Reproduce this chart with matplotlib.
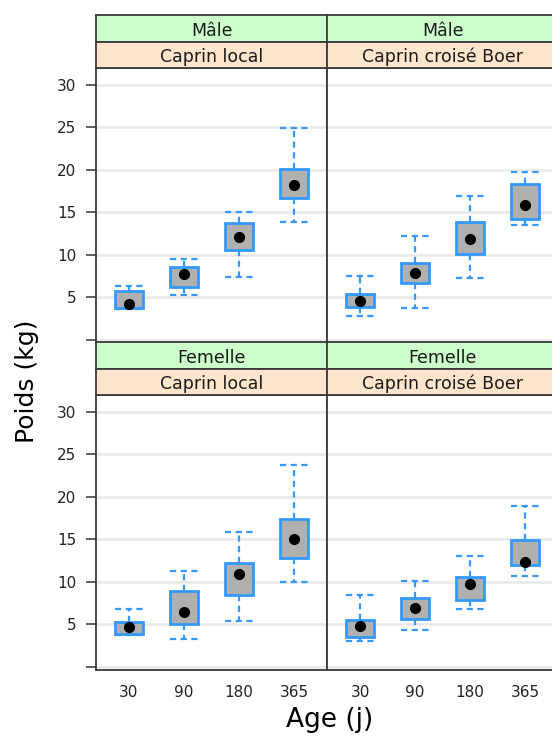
import matplotlib.pyplot as plt

plt.rcParams['font.family'] = 'DejaVu Sans'

ages = ["30", "90", "180", "365"]

# Mâle - Caprin local
ml_low = [3.6, 5.3, 7.4, 13.8]
ml_q1 = [3.7, 6.2, 10.6, 16.7]
ml_med = [4.2, 7.7, 12.1, 18.2]
ml_q3 = [5.7, 8.6, 13.7, 20.1]
ml_high = [6.3, 9.5, 15.0, 24.9]

# Mâle - Caprin croisé Boer
mb_low = [2.8, 3.7, 7.2, 13.5]
mb_q1 = [3.9, 6.7, 10.1, 14.2]
mb_med = [4.5, 7.9, 11.8, 15.9]
mb_q3 = [5.4, 9.0, 13.9, 18.3]
mb_high = [7.5, 12.2, 16.9, 19.7]

# Femelle - Caprin local
fl_low = [3.7, 3.3, 5.4, 10.0]
fl_q1 = [3.8, 5.0, 8.4, 12.8]
fl_med = [4.7, 6.4, 10.9, 15.0]
fl_q3 = [5.2, 8.9, 12.2, 17.4]
fl_high = [6.8, 11.3, 15.8, 23.8]

# Femelle - Caprin croisé Boer
fb_low = [3.0, 4.3, 6.8, 10.7]
fb_q1 = [3.5, 5.6, 7.9, 12.0]
fb_med = [4.8, 6.9, 9.7, 12.3]
fb_q3 = [5.5, 8.1, 10.5, 14.9]
fb_high = [8.4, 10.1, 13.0, 18.9]

W, H = 552, 740
blue = '#3399ff'
frame = '#3a3a3a'


def rect(x0, y0, x1, y1):
    # pixel box (from top-left) -> figure fraction
    return [x0 / W, 1 - y1 / H, (x1 - x0) / W, (y1 - y0) / H]


fig = plt.figure(figsize=(5.52, 7.40), dpi=100)

panels = [
    ((ml_low, ml_q1, ml_med, ml_q3, ml_high), 96, 68, "Mâle", "Caprin local", True, False),
    ((mb_low, mb_q1, mb_med, mb_q3, mb_high), 327, 68, "Mâle", "Caprin croisé Boer", False, False),
    ((fl_low, fl_q1, fl_med, fl_q3, fl_high), 96, 395, "Femelle", "Caprin local", True, True),
    ((fb_low, fb_q1, fb_med, fb_q3, fb_high), 327, 395, "Femelle", "Caprin croisé Boer", False, True),
]

pos = [1, 2, 3, 4]
dash = (0, (2.8, 2.0))
for (low, q1, med, q3, high), x0, top, sexe, race, left, bottom in panels:
    ax = fig.add_axes(rect(x0, top, x0 + 231, top + 275))
    stats = [dict(whislo=a, q1=b, med=c, q3=d, whishi=e, label=l)
             for a, b, c, d, e, l in zip(low, q1, med, q3, high, ages)]
    ax.bxp(stats, positions=pos, widths=0.52, capwidths=0.52,
           patch_artist=True, showfliers=False,
           boxprops=dict(facecolor='#b0b0b0', edgecolor=blue, linewidth=2.0),
           whiskerprops=dict(color=blue, linestyle=dash, linewidth=1.6),
           capprops=dict(color=blue, linestyle=dash, linewidth=1.6),
           medianprops=dict(linewidth=0))
    ax.plot(pos, med, 'o', color='black', ms=7, zorder=5)

    ax.set_xlim(0.4, 4.6)
    ax.set_ylim(-0.4, 32)
    ax.set_yticks(range(0, 31, 5))
    ax.yaxis.grid(True, color='#e8e8e8', linewidth=1.8)
    ax.set_axisbelow(True)
    for s in ax.spines.values():
        s.set_color(frame)
        s.set_linewidth(1.3)

    if left:
        ax.set_yticklabels([''] + [str(v) for v in range(5, 31, 5)])
        ax.tick_params(axis='y', length=7, width=1.3, color='#555555',
                       labelsize=11, pad=7, labelcolor='#222222')
    else:
        ax.tick_params(axis='y', length=0, labelleft=False)

    ax.set_xticks(pos)
    if bottom:
        ax.set_xticklabels(ages)
        ax.tick_params(axis='x', length=0, labelsize=11, pad=11, labelcolor='#222222')
    else:
        ax.tick_params(axis='x', length=0, labelbottom=False)

    # strips: sexe (green) above race (orange)
    for y0, y1, txt, col in [(top - 53, top - 26, sexe, '#ccffcc'),
                             (top - 26, top, race, '#ffe5cc')]:
        sa = fig.add_axes(rect(x0, y0, x0 + 231, y1))
        sa.set_facecolor(col)
        sa.set_xticks([])
        sa.set_yticks([])
        for s in sa.spines.values():
            s.set_color(frame)
            s.set_linewidth(1.3)
        sa.text(0.5, 0.42, txt, ha='center', va='center', fontsize=12.5,
                color='#1a1a1a', transform=sa.transAxes)

fig.text(330 / W, 1 - 720 / H, "Age (j)", ha='center', va='center', fontsize=19)
fig.text(27 / W, 1 - 381 / H, "Poids (kg)", ha='center', va='center',
         fontsize=18, rotation=90)

fig.savefig("out.png", dpi=100)
